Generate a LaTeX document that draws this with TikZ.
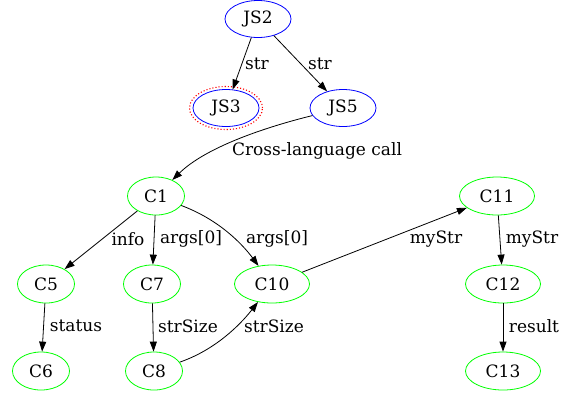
\documentclass[tikz,border=0pt]{standalone}
\usepackage{fontspec}
\setmainfont{DejaVu Serif}
\usetikzlibrary{shapes.geometric}
\usetikzlibrary{arrows.meta}

\begin{document}
\begin{tikzpicture}[x=1pt,y=-1pt,
        every node/.style={font=\fontsize{17}{19}\selectfont},
        jsnode/.style={ellipse,draw=blue,line width=0.8pt,minimum width=66pt,minimum height=37pt,inner sep=0pt},
        cnode/.style={ellipse,draw=green,line width=0.8pt,minimum width=57pt,minimum height=38pt,inner sep=0pt},
        wide/.style={minimum width=75pt},
        flow/.style={-{Triangle[length=10pt,width=7pt]},line width=0.8pt},
        lbl/.style={inner sep=0pt}]
            \useasboundingbox (0,0) rectangle (569,392);

            % JS side
            \node[jsnode] (js2) at (258,19) {JS2};
            \node[jsnode] (js3) at (226,108) {JS3};
            \node[jsnode] (js5) at (343,108) {JS5};
            \node[ellipse,draw=red,dotted,line width=1.1pt,minimum width=73pt,minimum height=43pt,inner sep=0pt] (js3mark) at (js3) {};

            % C side
            \foreach \n/\x/\y in {c1/156/196,c5/46/284,c7/152/284,c6/41/371,c8/154/371} {
                \node[cnode] (\n) at (\x,\y) {\MakeUppercase{\n}};
            }
            \foreach \n/\x/\y in {c10/272/284,c11/497/196,c12/503/284,c13/503/371} {
                \node[cnode,wide] (\n) at (\x,\y) {\MakeUppercase{\n}};
            }

            \draw[flow] (js2) -- (js3);
            \draw[flow] (js2) -- (js5);
            \draw[flow] (js5) .. controls (262,128) and (205,148) .. (c1);
            \draw[flow] (c1) -- (c5);
            \draw[flow] (c1) -- (c7);
            \draw[flow] (c1) .. controls (220,220) and (243,245) .. (c10);
            \draw[flow] (c5) -- (c6);
            \draw[flow] (c7) -- (c8);
            \draw[flow] (c8) .. controls (215,350) and (240,325) .. (c10);
            \draw[flow] (c10) -- (c11);
            \draw[flow] (c11) -- (c12);
            \draw[flow] (c12) -- (c13);

            % edge labels
            \node[lbl] (l1) at (257,64) {str};
            \node[lbl] (l2) at (320,64) {str};
            \node[lbl] (l3) at (317,151) {Cross-language call};
            \node[lbl] (l4) at (128,239) {info};
            \node[lbl] (l5) at (191,239) {args[0]};
            \node[lbl] (l6) at (277,239) {args[0]};
            \node[lbl] (l7) at (436,239) {myStr};
            \node[lbl] (l8) at (532,239) {myStr};
            \node[lbl] (l9) at (76,326) {status};
            \node[lbl] (l10) at (188,326) {strSize};
            \node[lbl] (l11) at (274,326) {strSize};
            \node[lbl] (l12) at (534,326) {result};
        \end{tikzpicture}
\end{document}
